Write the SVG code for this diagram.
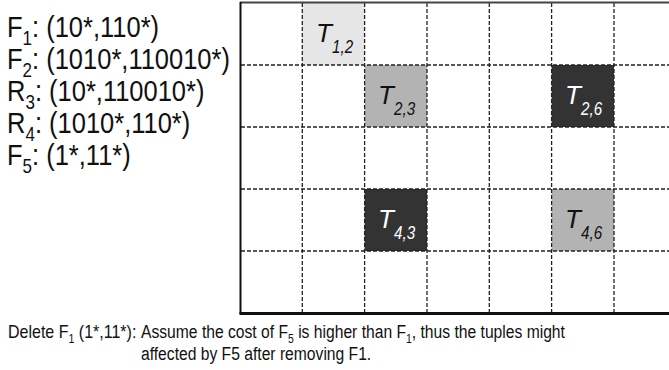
<svg xmlns="http://www.w3.org/2000/svg" width="669" height="370" viewBox="0 0 669 370">
<style>
.t{font-family:"Liberation Sans",Arial,sans-serif;fill:#111}
.lbl{font-size:30px}
.sub{font-size:20px}
.cap{font-size:18px}
.capsub{font-size:12px}
.tn{font-family:"Liberation Sans",Arial,sans-serif;font-style:italic}
.tb{font-size:26px}
.ts{font-size:19px}
.dash{stroke:#222;stroke-width:1.3;stroke-dasharray:4 2;fill:none}
.light{fill:#e6e6e6}
.mid{fill:#b3b3b3}
.dark{fill:#333333}
</style>
<rect width="669" height="370" fill="#fff"/>
<g id="rules">
<text class="t lbl" transform="translate(7 37) scale(0.85 1)">F<tspan class="sub" dy="8">1</tspan><tspan dy="-8">: (10*,110*)</tspan></text>
<text class="t lbl" transform="translate(7 69) scale(0.85 1)">F<tspan class="sub" dy="8">2</tspan><tspan dy="-8">: (1010*,110010*)</tspan></text>
<text class="t lbl" transform="translate(7 101) scale(0.85 1)">R<tspan class="sub" dy="8">3</tspan><tspan dy="-8">: (10*,110010*)</tspan></text>
<text class="t lbl" transform="translate(7 133) scale(0.85 1)">R<tspan class="sub" dy="8">4</tspan><tspan dy="-8">: (1010*,110*)</tspan></text>
<text class="t lbl" transform="translate(7 165) scale(0.85 1)">F<tspan class="sub" dy="8">5</tspan><tspan dy="-8">: (1*,11*)</tspan></text>
</g>
<g id="cell-T12"><rect class="light" x="302.3" y="3" width="62.3" height="62"/><text class="tn tb" x="316" y="42" fill="#111">T</text><text class="tn ts" transform="translate(332 53) scale(0.8 1)" fill="#111">1,2</text></g>
<g id="cell-T23"><rect class="mid" x="364.6" y="65" width="62.4" height="62"/><text class="tn tb" x="378" y="104" fill="#111">T</text><text class="tn ts" transform="translate(394 115) scale(0.8 1)" fill="#111">2,3</text></g>
<g id="cell-T26"><rect class="dark" x="551.6" y="65" width="62.4" height="62"/><text class="tn tb" x="565" y="104" fill="#fff">T</text><text class="tn ts" transform="translate(581 115) scale(0.8 1)" fill="#fff">2,6</text></g>
<g id="cell-T43"><rect class="dark" x="364.6" y="189" width="62.4" height="62"/><text class="tn tb" x="378" y="228" fill="#fff">T</text><text class="tn ts" transform="translate(394 239) scale(0.8 1)" fill="#fff">4,3</text></g>
<g id="cell-T46"><rect class="mid" x="551.6" y="189" width="62.4" height="62"/><text class="tn tb" x="565" y="228" fill="#111">T</text><text class="tn ts" transform="translate(581 239) scale(0.8 1)" fill="#111">4,6</text></g>
<g id="connectors">
<path class="dash" d="M302.3 3V313M364.6 3V313M427 3V313M489.3 3V313M551.6 3V313M614 3V313"/>
<path class="dash" d="M241 65H669M241 127H669M241 189H669M241 251H669"/>
<path d="M240 2.5H669" stroke="#444" stroke-width="2"/>
<path d="M240.5 2V314" stroke="#111" stroke-width="2"/>
<path d="M239.5 313.5H669" stroke="#111" stroke-width="3"/>
</g>
<g id="caption">
<text class="t cap" transform="translate(8 338) scale(0.89 1)">Delete F<tspan class="capsub" dy="5">1</tspan><tspan dy="-5"> (1*,11*):</tspan></text>
<text class="t cap" transform="translate(141 338) scale(0.87 1)">Assume the cost of F<tspan class="capsub" dy="5">5</tspan><tspan dy="-5"> is higher than F</tspan><tspan class="capsub" dy="5">1</tspan><tspan dy="-5">, thus the tuples might</tspan></text>
<text class="t cap" transform="translate(141 360) scale(0.87 1)">affected by F5 after removing F1.</text>
</g>
</svg>
